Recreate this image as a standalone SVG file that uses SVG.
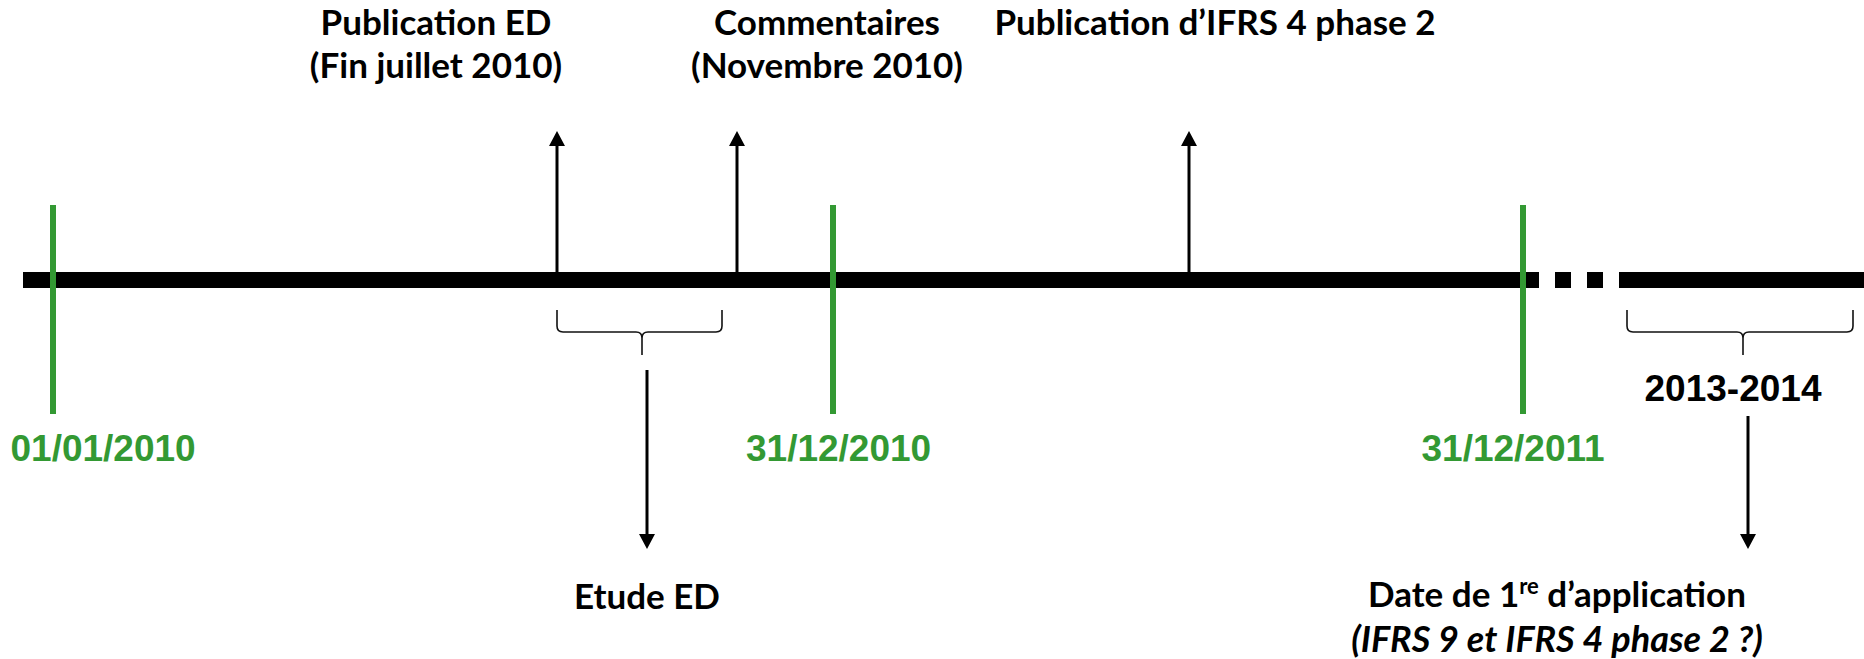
<svg xmlns="http://www.w3.org/2000/svg" width="1864" height="659" viewBox="0 0 1864 659">
<style>
.lbl{font-family:Lato,"Liberation Sans",sans-serif;font-weight:bold;font-size:35px;fill:#000;text-anchor:middle}
.it{font-style:italic;font-size:36px}
.date{font-family:"Liberation Sans",Arial,sans-serif;font-weight:bold;font-size:37px;fill:#339933}
.yr{font-family:"Liberation Sans",Arial,sans-serif;font-weight:bold;font-size:37px;fill:#000;text-anchor:middle}
.tick{stroke:#339933;stroke-width:6}
.arr{stroke:#000;stroke-width:3;fill:none;marker-end:url(#ah)}
.brace{stroke:#111;stroke-width:1.6;fill:none}
</style>
<defs>
<marker id="ah" markerUnits="userSpaceOnUse" markerWidth="16" markerHeight="16" refX="0" refY="8" orient="auto" viewBox="0 0 16 16">
<path d="M0,0 L15,8 L0,16 Z" fill="#000"/>
</marker>
</defs>
<rect width="1864" height="659" fill="#fff"/>

<g id="timeline">
<rect x="23" y="272" width="1516" height="16" fill="#000"/>
<rect x="1555" y="272" width="16" height="16" fill="#000"/>
<rect x="1587" y="272" width="16" height="16" fill="#000"/>
<rect x="1619" y="272" width="245" height="16" fill="#000"/>
</g>

<g id="connectors">
<line class="arr" x1="557" y1="272" x2="557" y2="146"/>
<line class="arr" x1="737" y1="272" x2="737" y2="146"/>
<line class="arr" x1="1189" y1="272" x2="1189" y2="146"/>
<line class="arr" x1="647" y1="370" x2="647" y2="534"/>
<line class="arr" x1="1748" y1="416" x2="1748" y2="534"/>
<path class="brace" d="M557,310 L557,326 Q557,332 563,332 L636,332 Q642,332 642,338 L642,355 M642,338 Q642,332 648,332 L716,332 Q722,332 722,326 L722,310"/>
<path class="brace" d="M1627,310 L1627,326 Q1627,332 1633,332 L1737,332 Q1743,332 1743,338 L1743,355 M1743,338 Q1743,332 1749,332 L1847,332 Q1853,332 1853,326 L1853,310"/>
</g>

<g id="d2010a">
<line class="tick" x1="53" y1="205" x2="53" y2="414"/>
<text class="date" x="10.5" y="461">01/01/2010</text>
</g>
<g id="d2010b">
<line class="tick" x1="833" y1="205" x2="833" y2="414"/>
<text class="date" x="746" y="461">31/12/2010</text>
</g>
<g id="d2011">
<line class="tick" x1="1523" y1="205" x2="1523" y2="414"/>
<text class="date" x="1421.5" y="461">31/12/2011</text>
</g>

<g id="pubED">
<text class="lbl" x="436" y="35">Publication ED</text>
<text class="lbl" x="436" y="78">(Fin juillet 2010)</text>
</g>
<g id="comments">
<text class="lbl" x="827" y="35">Commentaires</text>
<text class="lbl" x="827" y="78">(Novembre 2010)</text>
</g>
<g id="pubIFRS">
<text class="lbl" x="1215" y="35">Publication d’IFRS 4 phase 2</text>
</g>
<g id="etude">
<text class="lbl" x="647" y="609">Etude ED</text>
</g>
<g id="period">
<text class="yr" x="1733" y="401">2013-2014</text>
</g>
<g id="firstapp">
<text class="lbl" x="1557" y="607">Date de 1<tspan font-size="22" dy="-13">re</tspan><tspan dy="13"> d’application</tspan></text>
<text class="lbl it" x="1557" y="652">(IFRS 9 et IFRS 4 phase 2 ?)</text>
</g>
</svg>
